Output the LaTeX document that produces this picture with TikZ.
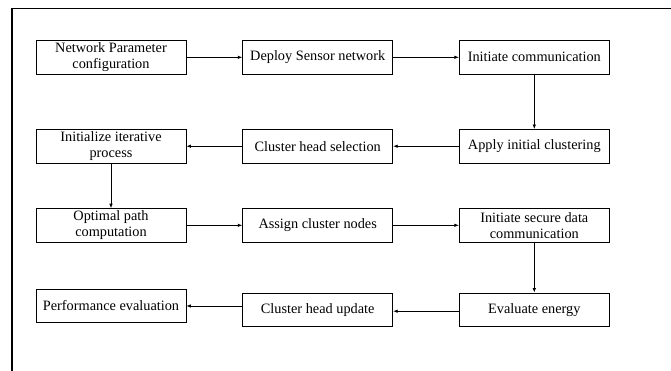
\documentclass[tikz,border=0pt]{standalone}
\usepackage{fontspec}
\setmainfont{Liberation Serif}
\usetikzlibrary{arrows.meta}
\begin{document}
\begin{tikzpicture}[x=1pt,y=-1pt,
  stepbox/.style={draw=black, line width=0.8pt, minimum width=150pt,
    minimum height=33.5pt, inner sep=1pt, align=center,
    font=\fontsize{14.3}{16}\selectfont},
  flow/.style={-{Latex[length=4.5pt,width=3.5pt]}, line width=0.7pt}]
\useasboundingbox (0,0) rectangle (671,370);

% outer frame (left and top edges)
\coordinate (fbl) at (12,372);
\coordinate (ftl) at (12,8.3);
\coordinate (ftr) at (673,8.3);
\draw[line width=1.6pt] (fbl) -- (ftl) -- (ftr);

% row 1
\node[stepbox] (netp)  at (111,57.3)   {Network Parameter\\configuration};
\node[stepbox] (deploy) at (317.7,57.3) {Deploy Sensor network};
\node[stepbox] (icomm) at (534.3,57.3) {Initiate communication};
% row 2
\node[stepbox] (iter)  at (111,146.2)   {Initialize iterative\\process};
\node[stepbox] (chsel) at (317.7,146.2) {Cluster head selection};
\node[stepbox] (aic)   at (534.3,146.2) {Apply initial clustering};
% row 3
\node[stepbox] (opt)   at (111,225.3)   {Optimal path\\computation};
\node[stepbox] (assign) at (317.7,225.3) {Assign cluster nodes};
\node[stepbox] (secure) at (534.3,225.3) {Initiate secure data\\communication};
% row 4
\node[stepbox] (perf)  at (111,306)     {Performance evaluation};
\node[stepbox] (chup)  at (317.7,309.7) {Cluster head update};
\node[stepbox] (energy) at (534.3,309.7) {Evaluate energy};

% connectors
\draw[flow] (netp) -- (deploy);
\draw[flow] (deploy) -- (icomm);
\draw[flow] (icomm) -- (aic);
\draw[flow] (aic) -- (chsel);
\draw[flow] (chsel) -- (iter);
\draw[flow] (iter) -- (opt);
\draw[flow] (opt) -- (assign);
\draw[flow] (assign) -- (secure);
\draw[flow] (secure) -- (energy);
\draw[flow] ([yshift=-1.5pt]energy.west) -- ([yshift=-1.5pt]chup.east);
\draw[flow] (chup.west |- perf.east) -- (perf.east);
\end{tikzpicture}
\end{document}
